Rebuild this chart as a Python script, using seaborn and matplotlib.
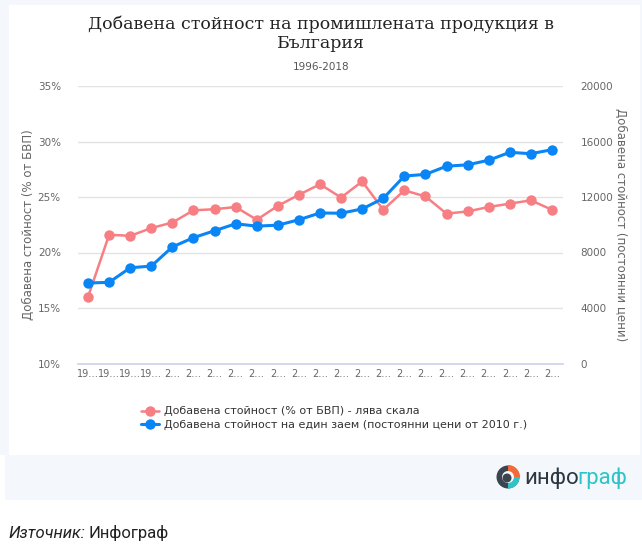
import matplotlib
matplotlib.use("Agg")
import matplotlib.pyplot as plt
import seaborn as sns
import pandas as pd
from matplotlib.patches import Rectangle, Circle, Wedge
from matplotlib.ticker import FixedLocator, FuncFormatter

years = list(range(1996, 2019))
tick_labels = ["19…"] * 4 + ["2…"] * 19
share_gdp = [16.0, 21.6, 21.5, 22.2, 22.7, 23.8, 23.9, 24.1, 22.95, 24.2, 25.2, 26.15,
             24.95, 26.4, 23.85, 25.6, 25.05, 23.5, 23.7, 24.1, 24.4, 24.7, 23.85]
per_employee = [5800, 5850, 6900, 7020, 8400, 9070, 9570, 10070, 9900, 9970, 10360, 10850,
                10830, 11140, 11900, 13510, 13630, 14220, 14320, 14650, 15220, 15120, 15410]
name_red = "Добавена стойност (% от БВП) - лява скала"
name_blue = "Добавена стойност на един заем (постоянни цени от 2010 г.)"

df = pd.DataFrame({"year": years, "share": share_gdp, "emp": per_employee})

sns.set_theme(style="white")
plt.rcParams['font.family'] = ['DejaVu Sans']

W, H = 642, 553
fig = plt.figure(figsize=(W / 100, H / 100), dpi=100, facecolor="white")

def fx(x):
    return x / W

def fy(y):
    return 1 - y / H

# backgrounds
fig.patches.append(Rectangle((fx(5), fy(500)), fx(637), 500 / H, transform=fig.transFigure,
                             facecolor="#f4f7fb", edgecolor="none", zorder=-3))
fig.patches.append(Rectangle((fx(0), fy(455)), 1, 455 / H, transform=fig.transFigure,
                             facecolor="#f4f7fb", edgecolor="none", zorder=-3))
fig.patches.append(Rectangle((fx(9), fy(455)), fx(631), 450 / H, transform=fig.transFigure,
                             facecolor="white", edgecolor="none", zorder=-2))

red = "#f77f84"
blue = "#0a85f5"
grid = "#e3e3e3"
axc = "#ccd6eb"
txt = "#666666"

ax = fig.add_axes([fx(77.5), fy(363.5), fx(485), (363.5 - 86) / H])
ax.set_facecolor("none")
ax2 = ax.twinx()

sns.lineplot(data=df, x="year", y="share", ax=ax, color=red, marker="o", markersize=7.5,
             markeredgewidth=0, linewidth=1.8, label=name_red, legend=False, zorder=3)
sns.lineplot(data=df, x="year", y="emp", ax=ax2, color=blue, marker="o", markersize=7.5,
             markeredgewidth=0, linewidth=2.2, label=name_blue, legend=False, zorder=3)

ax.set_xlim(1995.5, 2018.5)
ax.set_ylim(10, 35)
ax2.set_ylim(0, 20000)
ax.set_yticks([10, 15, 20, 25, 30, 35])
ax.yaxis.set_major_formatter(FuncFormatter(lambda v, p: f"{int(v)}%"))
ax2.set_yticks([0, 4000, 8000, 12000, 16000, 20000])
ax2.yaxis.set_major_formatter(FuncFormatter(lambda v, p: f"{int(v)}"))

ax.set_xticks(years)
ax.set_xticklabels(tick_labels)
ax.xaxis.set_minor_locator(FixedLocator([y - 0.5 for y in years] + [2018.5]))
ax.tick_params(axis="x", which="major", length=0, labelsize=7, colors=txt, pad=4)
ax.tick_params(axis="x", which="minor", length=6, color=axc, width=1)
ax.tick_params(axis="y", length=0, labelsize=7.5, colors=txt, pad=12)
ax2.tick_params(axis="y", length=0, labelsize=7.5, colors=txt, pad=13)

ax.grid(axis="y", color=grid, linewidth=1)
ax.set_axisbelow(True)
for a in (ax, ax2):
    for s in ("top", "left", "right"):
        a.spines[s].set_visible(False)
    a.spines["bottom"].set_color(axc)
ax2.spines["bottom"].set_visible(False)

ax.set_xlabel("")
ax.set_ylabel("Добавена стойност (% от БВП)", color=txt, fontsize=8.5, labelpad=2)
ax2.set_ylabel("Добавена стойност (постоянни цени)", color=txt, fontsize=8.5, rotation=270, labelpad=10)

# title
fig.text(0.5, fy(24), "Добавена стойност на промишлената продукция в", ha="center", va="center",
         fontsize=12.5, family="DejaVu Serif", color="#222222")
fig.text(0.5, fy(43), "България", ha="center", va="center",
         fontsize=12.5, family="DejaVu Serif", color="#222222")
fig.text(0.5, fy(67), "1996-2018", ha="center", va="center", fontsize=7.5, color="#555555")

# legend
h1, l1 = ax.get_legend_handles_labels()
h2, l2 = ax2.get_legend_handles_labels()
leg = fig.legend(h1 + h2, l1 + l2, loc="upper left", bbox_to_anchor=(fx(137), fy(402)),
                 frameon=False, fontsize=8, handlelength=1.6, handletextpad=0.4,
                 labelspacing=0.35, borderaxespad=0)
for t in leg.get_texts():
    t.set_color("#333333")

# logo
cx, cy = 508, H - 477
fig.patches.append(Circle((cx, cy), 11.5, transform=None, facecolor="#3a4550", edgecolor="none"))
fig.patches.append(Wedge((cx, cy), 11.5, 270, 360, transform=None, facecolor="#2ec4c8", edgecolor="none"))
fig.patches.append(Wedge((cx, cy), 12, 0, 90, transform=None, facecolor="#f06a3a", edgecolor="none"))
fig.patches.append(Circle((cx, cy), 6, transform=None, facecolor="#f4f7fb", edgecolor="none"))
fig.patches.append(Circle((cx - 1, cy - 1), 4.5, transform=None, facecolor="#3a4550", edgecolor="none"))
fig.text(fx(524), fy(478), "инфо", ha="left", va="center", fontsize=16, family="Roboto",
         color="#2d3742")
fig.text(fx(577), fy(478), "граф", ha="left", va="center", fontsize=16, family="Roboto",
         color="#2ec4c8")

# source
fig.text(fx(8), fy(533), "Източник:", ha="left", va="center", fontsize=12, family="Roboto",
         style="italic", color="#222222")
fig.text(fx(89), fy(533), "Инфограф", ha="left", va="center", fontsize=12, family="Roboto",
         color="#222222")

fig.savefig("out.png", dpi=100, facecolor="white")
